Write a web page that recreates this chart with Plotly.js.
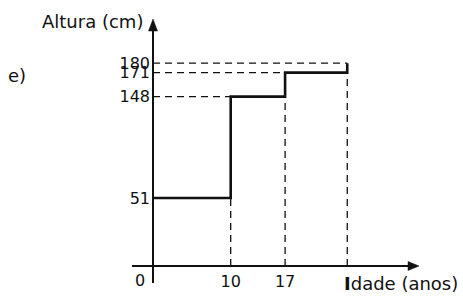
<!DOCTYPE html>
<html><head><meta charset="utf-8">
<script src="https://cdn.plot.ly/plotly-3.0.1.min.js"></script>
<style>html,body{margin:0;padding:0;background:#fff}#chart{width:463px;height:296px}</style>
</head><body><div id="chart"></div>
<script>
// Data
const ages = [0, 10, 17, 25];          // Idade (anos)
const heights = [51, 148, 171, 180];   // Altura (cm)
const yTickLabels = ['51', '148', '171', '180'];
const xTickVals = [10, 17];
const xTickLabels = ['10', '17'];

// Geometry (pixel calibration of the schematic figure)
const W = 463, H = 296;
const X0PX = 153, XS = 7.77;     // x=0 at 153px, px per year
const Y0PX = 251.2, YS = 1.0445; // y=0 at 251.2px, px per cm
const dx = px => (px - X0PX) / XS;
const dy = py => (Y0PX - py) / YS;
const xAxisY = dy(266);
const FONT = 'DejaVu Sans, Liberation Sans, Arial, sans-serif';
const INK = '#111';

const shapes = [];
// axes lines
shapes.push({type:'line', xref:'x', yref:'y', x0:0, x1:0, y0:dy(283), y1:dy(30), line:{color:INK, width:2}});
shapes.push({type:'line', xref:'x', yref:'y', x0:dx(132), x1:dx(409), y0:xAxisY, y1:xAxisY, line:{color:INK, width:2}});
// arrowheads
shapes.push({type:'path', xref:'x', yref:'y',
  path:`M ${dx(153)} ${dy(19)} L ${dx(148.5)} ${dy(31)} L ${dx(157.5)} ${dy(31)} Z`,
  fillcolor:INK, line:{color:INK, width:0.5}});
shapes.push({type:'path', xref:'x', yref:'y',
  path:`M ${dx(419)} ${dy(266)} L ${dx(408)} ${dy(261.5)} L ${dx(408)} ${dy(270.5)} Z`,
  fillcolor:INK, line:{color:INK, width:0.5}});
// dashed guides
for (let i = 1; i < ages.length; i++) {
  shapes.push({type:'line', xref:'x', yref:'y', x0:0, x1:ages[i], y0:heights[i], y1:heights[i],
    line:{color:INK, width:1.3, dash:'7px,5px'}});
  shapes.push({type:'line', xref:'x', yref:'y', x0:ages[i], x1:ages[i], y0:xAxisY, y1:heights[i-1],
    line:{color:INK, width:1.3, dash:'7px,5px'}});
}

const trace = {
  x: ages, y: heights, type:'scatter', mode:'lines',
  line:{shape:'hv', color:INK, width:2.6}, hoverinfo:'skip'
};

const layout = {
  width: W, height: H,
  margin:{l:0, r:0, t:0, b:0},
  paper_bgcolor:'#fff', plot_bgcolor:'#fff',
  showlegend:false,
  font:{family:FONT, color:INK, size:16},
  xaxis:{range:[dx(0), dx(W)], anchor:'free', position:(H-266)/H,
    showgrid:false, zeroline:false, showline:false, ticks:'',
    tickvals:xTickVals, ticktext:xTickLabels, tickfont:{size:16, family:FONT, color:INK},
    ticklabelstandoff:4, fixedrange:true},
  yaxis:{range:[dy(H), dy(0)], anchor:'free', position:X0PX/W,
    showgrid:false, zeroline:false, showline:false, ticks:'',
    tickvals:heights, ticktext:yTickLabels, tickfont:{size:16, family:FONT, color:INK},
    ticklabelstandoff:3, fixedrange:true},
  shapes: shapes,
  annotations:[
    {text:'Altura (cm)', xref:'x', yref:'y', x:0, y:dy(21), xshift:-8, xanchor:'right', yanchor:'middle',
     showarrow:false, font:{size:18, family:FONT, color:INK}},
    {text:'e)', xref:'paper', yref:'y', x:6/W, y:dy(75), xanchor:'left', yanchor:'middle',
     showarrow:false, font:{size:18, family:FONT, color:INK}},
    {text:'<b>I</b>dade (anos)', xref:'x', yref:'y', x:dx(342), y:dy(283), xanchor:'left', yanchor:'middle',
     showarrow:false, font:{size:18, family:FONT, color:INK}},
    {text:'0', xref:'x', yref:'y', x:0, y:dy(280), xshift:-6, xanchor:'right', yanchor:'middle',
     showarrow:false, font:{size:16, family:FONT, color:INK}}
  ]
};

Plotly.newPlot('chart', [trace], layout, {displayModeBar:false, staticPlot:true});
</script>
</body></html>
